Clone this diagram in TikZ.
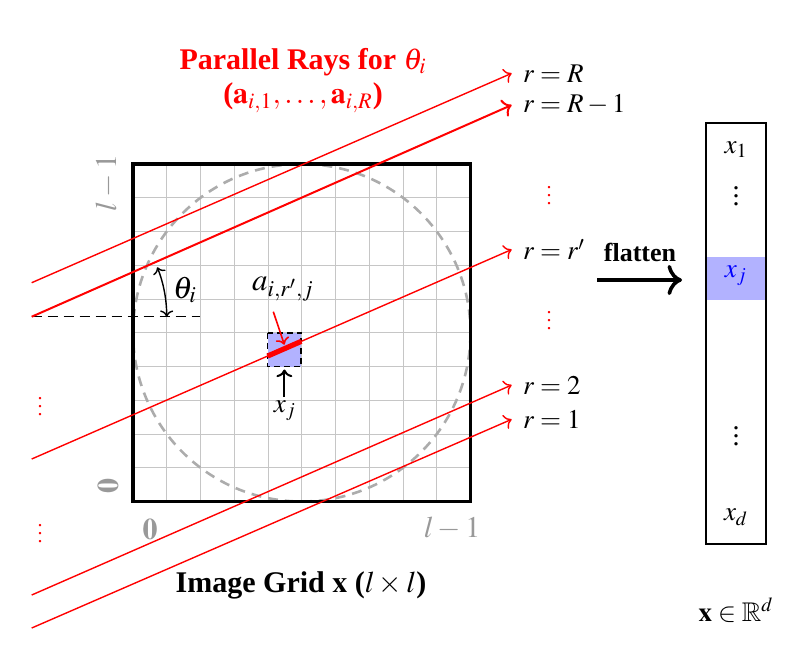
\documentclass[tikz,border=0pt]{standalone}
\usepackage{mathptmx}
\usepackage{amssymb}
\usepackage[no-math]{fontspec}
\setmainfont{Liberation Serif}
\usetikzlibrary{calc,arrows.meta}
\begin{document}
\begin{tikzpicture}[x=0.5pt,y=-0.5pt,
  gridline/.style={gray!45, line width=0.5pt},
  circdash/.style={gray!65, line width=1.3pt, dash pattern=on 5pt off 3.5pt},
  frame/.style={black, line width=1.75pt},
  pixbox/.style={fill=blue!30, draw=black, line width=0.8pt, dash pattern=on 3pt off 2pt},
  ray/.style={red, line width=0.7pt, -{To[scale=1.15]}},
  lab/.style={inner sep=0pt, font=\fontsize{13.5}{16}\selectfont},
  biglab/.style={inner sep=0pt, font=\fontsize{15.5}{18}\selectfont},
  big/.style={inner sep=0pt, font=\fontsize{15}{18}\selectfont\bfseries},
  axlab/.style={inner sep=0pt, text=gray!80, font=\fontsize{15}{18}\selectfont},
  reddots/.style={inner sep=0pt, text=red, font=\fontsize{10}{12}\selectfont},
  vecdots/.style={inner sep=0pt, font=\fontsize{14}{16}\selectfont}]
\useasboundingbox (0,0) rectangle (801,649);

% grid
\foreach \i in {1,...,9} {
  \draw[gridline] ({133+\i*33.75},164) -- ({133+\i*33.75},501.5);
  \draw[gridline] (133,{164+\i*33.75}) -- (470.5,{164+\i*33.75});
}
\draw[circdash] (301.75,332.75) circle[radius=168.75];
\draw[pixbox] (267.5,332.75) rectangle (301.25,366.5);
\coordinate (pixS) at (284.4,366.5);
\draw[frame] (133,164) rectangle (470.5,501.5);

% axis labels
\node[axlab, rotate=90] (yhi) at (107,183) {$l-1$};
\node[axlab, rotate=90] (ylo) at (108,486) {$\mathbf{0}$};
\node[axlab] (xlo) at (150,529) {$\mathbf{0}$};
\node[axlab] (xhi) at (452,528) {$l-1$};

% rays
\coordinate (sR) at (31.7,282.7);   \coordinate (eR) at (511.7,73.3);
\coordinate (sR1) at (31.7,316.7);  \coordinate (eR1) at (511.7,105);
\coordinate (sP) at (31.7,459);     \coordinate (eP) at (511.7,249.5);
\coordinate (s2) at (31.7,595);     \coordinate (e2) at (511.7,385);
\coordinate (s1) at (31.7,628);     \coordinate (e1) at (511.7,419.3);

% horizontal reference and angle
\coordinate (hE) at (200,316.7);
\draw[black, line width=0.75pt, dash pattern=on 5pt off 3pt] (sR1) -- (hE);
\draw[black, line width=0.7pt, <->] (166.7,316.7) arc[start angle=0, end angle=-21.5, radius=135];
\node[biglab] (theta) at (185,290) {$\theta_i$};

\draw[ray] (sR) -- (eR);
\draw[ray, line width=1pt] (sR1) -- (eR1);
\draw[ray] (sP) -- (eP);
\draw[ray] (s2) -- (e2);
\draw[ray] (s1) -- (e1);

% intersection segment
\coordinate (segA) at ($(sP)!0.4913!(eP)$);
\coordinate (segB) at ($(sP)!0.5616!(eP)$);
\coordinate (segM) at ($(segA)!0.5!(segB)$);
\draw[red, line width=2.6pt] (segA) -- (segB);

\node[biglab] (alab) at (283,289) {$a_{i,r',j}$};
\coordinate (aA) at (273.3,311.7);
\draw[red, line width=0.8pt, ->] (aA) -- ([yshift=2pt]segM);
\node[lab] (xjlab) at (285,411) {$x_j$};
\coordinate (xjA) at (284.4,397);
\draw[black, line width=1pt, ->] (xjA) -- ([yshift=-1.5pt]pixS);

% ray labels
\node[lab, anchor=west] (lR) at ([xshift=5.5pt]eR) {$r=R$};
\node[lab, anchor=west] (lR1) at ([xshift=5.5pt]eR1) {$r=R-1$};
\node[lab, anchor=west] (lP) at ([xshift=5.5pt]eP) {$r=r'$};
\node[lab, anchor=west] (l2) at ([xshift=5.5pt]e2) {$r=2$};
\node[lab, anchor=west] (l1) at ([xshift=5.5pt]e1) {$r=1$};
\node[reddots] (rd1) at (549,190) {$\vdots$};
\node[reddots] (rd2) at (549,315) {$\vdots$};
\node[reddots] (ld1) at (40,401) {$\vdots$};
\node[reddots] (ld2) at (40,528) {$\vdots$};

% title
\node[big, text=red] (t1) at (303,62) {Parallel Rays for $\theta_i$};
\node[big, text=red] (t2) at (303,98) {($\mathbf{a}_{i,1},\ldots,\mathbf{a}_{i,R}$)};
\node[big] (glab) at (301,585) {Image Grid $\mathbf{x}$ ($l\times l$)};

% flatten
\node[inner sep=0pt, font=\fontsize{13}{15}\selectfont\bfseries] (flat) at (640,252) {flatten};
\coordinate (fA) at (597,280);
\coordinate (fB) at (682,280);
\draw[black, line width=1.8pt, -{To[scale=1.3]}] (fA) -- (fB);

% vector
\fill[blue!30] (706,256.7) rectangle (766,300);
\draw[black, line width=1pt] (706,122.5) rectangle (766,544);
\node[lab] (v1) at (736,150) {$x_1$};
\node[vecdots] (vd1) at (736,190) {$\vdots$};
\node[lab, text=blue] (vj) at (736,276) {$x_j$};
\node[vecdots] (vd2) at (736,430) {$\vdots$};
\node[lab] (vd) at (736,517) {$x_d$};
\node[lab] (space) at (736,610) {$\mathbf{x}\in\mathbb{R}^d$};
\end{tikzpicture}
\end{document}
